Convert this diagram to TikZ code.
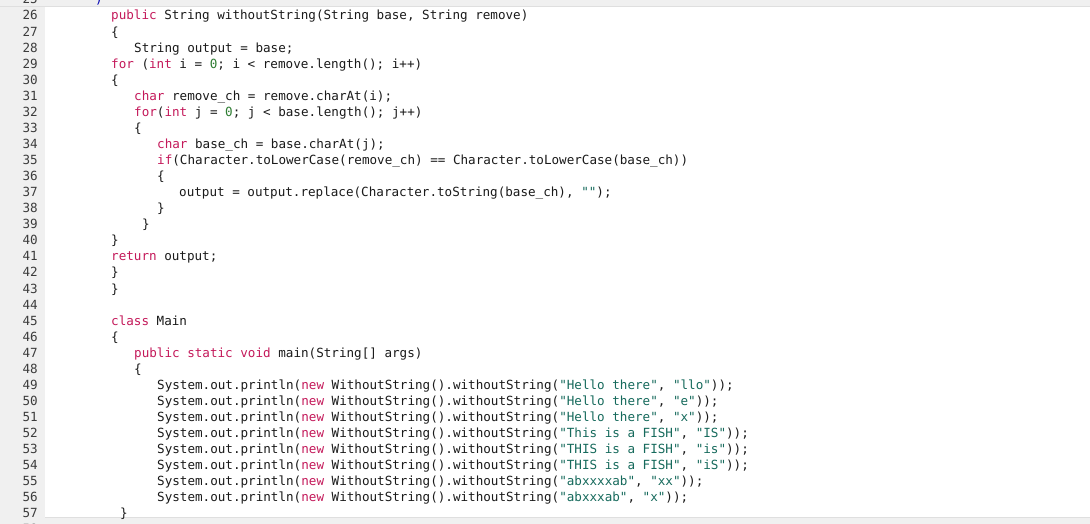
\documentclass[tikz,border=0pt]{standalone}
\usepackage{fontspec}
\setmonofont{DejaVu Sans Mono}
\definecolor{kwc}{HTML}{C4195A}
\definecolor{numc}{HTML}{2E7D32}
\definecolor{strc}{HTML}{166A5C}
\definecolor{gut}{HTML}{F0F0F0}
\definecolor{txt}{HTML}{1A1A1A}
\newcommand{\kw}[1]{\textcolor{kwc}{#1}}
\newcommand{\nm}[1]{\textcolor{numc}{#1}}
\newcommand{\cstr}[1]{\textcolor{strc}{#1}}
\begin{document}
\begin{tikzpicture}[x=1pt,y=1pt,
  code/.style={anchor=base west,inner sep=0pt,font=\fontsize{12.6}{14}\ttfamily,text=txt},
  lnum/.style={anchor=base east,inner sep=0pt,font=\fontsize{12.6}{14}\ttfamily,text=txt!85}]
\useasboundingbox (0,0) rectangle (1090,-524);
\clip (0,0) rectangle (1090,-524);
\fill[white] (0,0) rectangle (1090,-524);
\fill[gut] (0,0) rectangle (45,-524);
\fill[gut] (0,0) rectangle (1090,-6);
\draw[gray!25] (0,-6.5) -- (1090,-6.5);
\fill[gut] (0,-518) rectangle (1090,-524);
\draw[gray!25] (45,-517.5) -- (1090,-517.5);
\def\ly#1{-(20+(#1-26)*16.06)}
\foreach \n in {25,...,58} \node[lnum] (n\n) at (38,{\ly{\n}}) {\n};
\node[code,text=blue!70!black] (l25) at (95,{\ly{25}}) {)};
\node[code] (l26) at (111,{\ly{26}}) {\kw{public} String withoutString(String base, String remove)};
\node[code] (l27) at (111,{\ly{27}}) {\{};
\node[code] (l28) at (134,{\ly{28}}) {String output = base;};
\node[code] (l29) at (111,{\ly{29}}) {\kw{for} (\kw{int} i = \nm{0}; i < remove.length(); i++)};
\node[code] (l30) at (111,{\ly{30}}) {\{};
\node[code] (l31) at (134,{\ly{31}}) {\kw{char} remove\_ch = remove.charAt(i);};
\node[code] (l32) at (134,{\ly{32}}) {\kw{for}(\kw{int} j = \nm{0}; j < base.length(); j++)};
\node[code] (l33) at (134,{\ly{33}}) {\{};
\node[code] (l34) at (157,{\ly{34}}) {\kw{char} base\_ch = base.charAt(j);};
\node[code] (l35) at (157,{\ly{35}}) {\kw{if}(Character.toLowerCase(remove\_ch) == Character.toLowerCase(base\_ch))};
\node[code] (l36) at (157,{\ly{36}}) {\{};
\node[code] (l37) at (179,{\ly{37}}) {output = output.replace(Character.toString(base\_ch), \cstr{""});};
\node[code] (l38) at (157,{\ly{38}}) {\}};
\node[code] (l39) at (142,{\ly{39}}) {\}};
\node[code] (l40) at (111,{\ly{40}}) {\}};
\node[code] (l41) at (111,{\ly{41}}) {\kw{return} output;};
\node[code] (l42) at (111,{\ly{42}}) {\}};
\node[code] (l43) at (111,{\ly{43}}) {\}};
\node[code] (l45) at (111,{\ly{45}}) {\kw{class} Main};
\node[code] (l46) at (111,{\ly{46}}) {\{};
\node[code] (l47) at (134,{\ly{47}}) {\kw{public} \kw{static} \kw{void} main(String[] args)};
\node[code] (l48) at (134,{\ly{48}}) {\{};
\foreach \n/\a/\b in {49/Hello there/llo,50/Hello there/e,51/Hello there/x,52/This is a FISH/IS,53/THIS is a FISH/is,54/THIS is a FISH/iS,55/abxxxxab/xx,56/abxxxab/x}
  \node[code] (l\n) at (157,{\ly{\n}}) {System.out.println(\kw{new} WithoutString().withoutString(\cstr{"\a"}, \cstr{"\b"}));};
\node[code] (l57) at (120,{\ly{57}}) {\}};
\end{tikzpicture}
\end{document}
